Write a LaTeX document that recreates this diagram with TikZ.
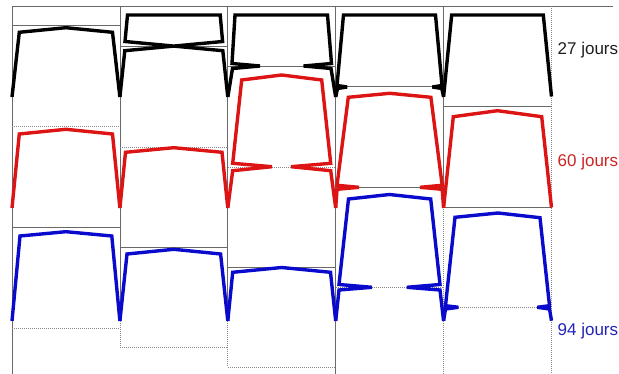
\documentclass[tikz,border=0pt]{standalone}
\usepackage{fontspec}
\setmainfont{Liberation Sans}
\definecolor{shRed}{RGB}{220,20,20}
\definecolor{shBlue}{RGB}{10,10,205}
\definecolor{shBlack}{RGB}{0,0,0}
\definecolor{txRed}{RGB}{205,35,35}
\definecolor{txBlue}{RGB}{35,35,185}
\definecolor{txBlack}{RGB}{30,30,30}
\definecolor{gridc}{RGB}{105,105,105}
\tikzset{
  gsolid/.style={draw=gridc,line width=0.8pt},
  gdot/.style={draw=gridc!80,line width=0.8pt,dash pattern=on 1pt off 1pt},
  sect/.style={line width=3.4pt,line join=miter,miter limit=4},
  lab/.style={anchor=west,inner sep=0pt,font=\fontsize{17}{20}\selectfont}
}
\begin{document}
\begin{tikzpicture}[x=1pt,y=-1pt]
\useasboundingbox (0,0) rectangle (619,374);
% frame
\draw[gsolid] (12,6) -- (613,6);
\draw[gsolid] (12,6) -- (12,374);
\draw[gsolid] (119.9,6) -- (119.9,321);
\draw[gdot] (119.9,321) -- (119.9,347);
\draw[gsolid] (227.8,6) -- (227.8,321);
\draw[gdot] (227.8,321) -- (227.8,367);
\draw[gsolid] (335.7,6) -- (335.7,374);
\draw[gsolid] (443.6,6) -- (443.6,207);
\draw[gdot] (443.6,207) -- (443.6,374);
\draw[gdot] (551.5,6) -- (551.5,374);
% box lines col 1
\draw[gsolid] (12,25) -- (119.9,25);
\draw[gdot] (12,126) -- (119.9,126);
\draw[gsolid] (12,227) -- (119.9,227);
\draw[gdot] (12,328) -- (119.9,328);
% col 2
\draw[gsolid] (119.9,46) -- (227.8,46);
\draw[gdot] (119.9,147) -- (227.8,147);
\draw[gsolid] (119.9,247) -- (227.8,247);
\draw[gdot] (119.9,347) -- (227.8,347);
% col 3
\draw[gsolid] (227.8,66) -- (335.7,66);
\draw[gdot] (227.8,167) -- (335.7,167);
\draw[gsolid] (227.8,267) -- (335.7,267);
\draw[gdot] (227.8,367) -- (335.7,367);
% col 4
\draw[gsolid] (335.7,86) -- (443.6,86);
\draw[gsolid] (335.7,187) -- (443.6,187);
\draw[gdot] (335.7,287) -- (443.6,287);
% col 5
\draw[gsolid] (443.6,106) -- (551.5,106);
\draw[gsolid] (443.6,207) -- (551.5,207);
\draw[gdot] (443.6,307) -- (551.5,307);

% black sections (27 jours)
\draw[sect,shBlack] (12,97) -- (19.3,32.3) -- (65.9,27.7) -- (112.5,32.3) -- (119.9,97);
\draw[sect,shBlack] (119.9,97) -- (124.8,50.7) -- (222.6,41.5) -- (220.2,15) -- (127.5,15) -- (125,41.5) -- (222.8,50.7) -- (227.8,97);
\draw[sect,shBlack] (227.8,97) -- (232.5,68.5) -- (260,66) -- (232,63.5) -- (235,15) -- (327.5,15) -- (331.5,63.5) -- (303.5,66) -- (331,68.5) -- (335.7,97);
\draw[sect,shBlack] (335.7,97) -- (337.5,88.5) -- (347,87) -- (337,85.5) -- (343.5,15) -- (435.5,15) -- (442,85.5) -- (432.5,87) -- (441.8,88.5) -- (443.6,97);
\draw[sect,shBlack] (443.6,96.5) -- (451.7,15) -- (543.3,15) -- (551.5,96.5);

% red sections (60 jours)
\draw[sect,shRed] (12,208) -- (19.3,134) -- (65.9,129.3) -- (112.5,134) -- (119.9,208);
\draw[sect,shRed] (119.9,208) -- (125.5,152.3) -- (173.8,147.7) -- (222,152.3) -- (227.8,208);
\draw[sect,shRed] (227.8,208) -- (232.7,170.7) -- (272,166.7) -- (232.7,163.3) -- (241.7,80) -- (281.7,75) -- (321.7,80) -- (330.7,163.3) -- (291,166.7) -- (330.7,170.7) -- (335.7,208);
\draw[sect,shRed] (335.7,208) -- (337,189.3) -- (359,187.3) -- (337,185.3) -- (348.3,97.3) -- (389.7,93.3) -- (430.9,97.3) -- (442.2,185.3) -- (420,187.3) -- (442.2,189.3) -- (443.6,208);
\draw[sect,shRed] (443.6,207.5) -- (453.3,116.7) -- (497.5,110.7) -- (541.7,116.7) -- (551.5,207.5);

% blue sections (94 jours)
\draw[sect,shBlue] (12,321) -- (20,236) -- (65.9,231.7) -- (111.8,236) -- (119.9,321);
\draw[sect,shBlue] (119.9,321) -- (127,254) -- (173.8,249.3) -- (220.6,254) -- (227.8,321);
\draw[sect,shBlue] (227.8,321) -- (232.7,272.3) -- (281.7,267.5) -- (330.5,272.3) -- (335.7,321);
\draw[sect,shBlue] (335.7,321) -- (339,290) -- (372,287.3) -- (339,284.5) -- (348.5,199) -- (389.5,194.5) -- (430.7,199) -- (440,284.5) -- (406.7,287.3) -- (440,290) -- (443.6,321);
\draw[sect,shBlue] (443.6,320.7) -- (445.5,309) -- (458.5,307.3) -- (445.5,305.7) -- (455,217.3) -- (498,213) -- (540,217.7) -- (549.5,305.7) -- (537.3,307.3) -- (549.5,309) -- (551.5,320.7);

% labels
\node[lab,text=txBlack] (l27) at (557.5,50) {27 jours};
\node[lab,text=txRed] (l60) at (557.5,162) {60 jours};
\node[lab,text=txBlue] (l94) at (557.5,331.5) {94 jours};
\end{tikzpicture}
\end{document}
